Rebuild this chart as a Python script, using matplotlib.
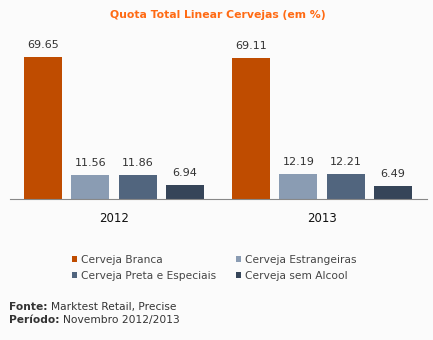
import matplotlib.pyplot as plt
import numpy as np

# =========================
# DATA
# =========================

years = ["2012", "2013"]
segments = [
    "Cerveja Branca",
    "Cerveja Estrangeiras",
    "Cerveja Preta e Especiais",
    "Cerveja sem Alcool",
]
share_2012 = [69.65, 11.56, 11.86, 6.94]
share_2013 = [69.11, 12.19, 12.21, 6.49]

colors = ["#bf4c00", "#8a9cb3", "#51657e", "#364559"]

W, H = 433, 340
BG = "#fbfbfb"

fig = plt.figure(figsize=(W / 100, H / 100), dpi=100, facecolor=BG)

# axes placed in pixel terms: baseline at y=199, spans x 10..427
ax = fig.add_axes([10 / W, (H - 199) / H, 417 / W, 153 / H])
ax.set_facecolor(BG)

values = np.array([share_2012, share_2013])
x = np.arange(len(years)) + 0.5
bar_w = 0.183
step = 0.2275

for k, seg in enumerate(segments):
    pos = x + (k - 1.5) * step
    bars = ax.bar(pos, values[:, k], width=bar_w, color=colors[k], label=seg)
    for b, v in zip(bars, values[:, k]):
        ax.annotate(f"{v:.2f}", (b.get_x() + b.get_width() / 2, v),
                    xytext=(0, 5), textcoords="offset points",
                    ha="center", va="bottom", fontsize=8, color="#333333")

ax.set_xlim(0, 2.005)
ax.set_ylim(0, 75)
ax.set_xticks(x)
ax.set_xticklabels(years, fontsize=8.5, color="#111111")
ax.tick_params(axis="x", length=0, pad=9)
ax.set_yticks([])
for side in ["top", "right", "left"]:
    ax.spines[side].set_visible(False)
ax.spines["bottom"].set_color("#888888")
ax.spines["bottom"].set_linewidth(0.8)

fig.text(218 / W, 1 - 15 / H, "Quota Total Linear Cervejas (em %)",
         ha="center", va="center", fontsize=7.8, fontweight="bold",
         color="#ff6a13")

# legend fills column-wise, so reorder to read row by row
handles, labels = ax.get_legend_handles_labels()
order = [0, 2, 1, 3]
fig.legend([handles[i] for i in order], [labels[i] for i in order], ncol=2,
           loc="center left", bbox_to_anchor=(62 / W, 1 - 268 / H),
           frameon=False, fontsize=7.7, handlelength=0.5, handleheight=0.5,
           handletextpad=0.35, columnspacing=1.85, labelspacing=0.6,
           labelcolor="#444444")

fig.text(9 / W, 1 - 307 / H, "Fonte:", fontsize=7.7, fontweight="bold",
         color="#333333", va="center")
fig.text(51 / W, 1 - 307 / H, "Marktest Retail, Precise", fontsize=7.7,
         color="#333333", va="center")
fig.text(9 / W, 1 - 320 / H, "Período:", fontsize=7.7, fontweight="bold",
         color="#333333", va="center")
fig.text(63 / W, 1 - 320 / H, "Novembro 2012/2013", fontsize=7.7,
         color="#333333", va="center")

fig.savefig("out.png", dpi=100, facecolor=BG)
